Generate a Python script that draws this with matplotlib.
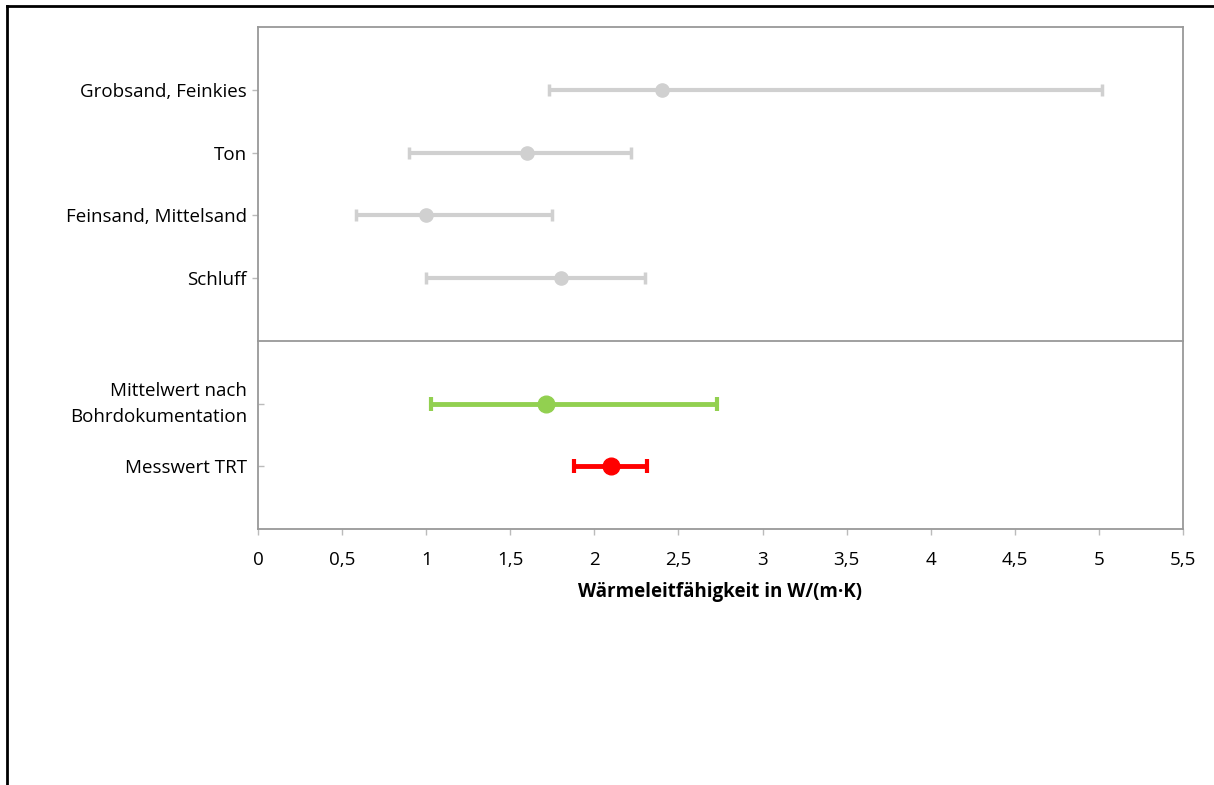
import matplotlib
matplotlib.use("Agg")
import matplotlib.pyplot as plt
from matplotlib.lines import Line2D

plt.rcParams['font.family'] = ['Open Sans', 'DejaVu Sans']

# Data
upper_labels = ["Grobsand, Feinkies", "Ton", "Feinsand, Mittelsand", "Schluff"]
upper_values = [2.4, 1.6, 1.0, 1.8]
upper_low = [1.73, 0.90, 0.58, 1.00]
upper_high = [5.02, 2.22, 1.75, 2.30]

lower_labels = ["Mittelwert nach\nBohrdokumentation", "Messwert TRT"]
lower_values = [1.71, 2.10]
lower_low = [1.03, 1.88]
lower_high = [2.73, 2.31]
lower_colors = ["#92d050", "#ff0000"]

xticks = [0, 0.5, 1, 1.5, 2, 2.5, 3, 3.5, 4, 4.5, 5, 5.5]
xticklabels = ["0", "0,5", "1", "1,5", "2", "2,5", "3", "3,5", "4", "4,5", "5", "5,5"]
xlabel = "Wärmeleitfähigkeit in W/(m·K)"

W, H = 1214, 785
fig = plt.figure(figsize=(W / 100, H / 100), dpi=100)

left, right = 258 / W, 1183 / W
top, mid, bottom = 1 - 27 / H, 1 - 341 / H, 1 - 529 / H
ax_u = fig.add_axes([left, mid, right - left, top - mid])
ax_l = fig.add_axes([left, bottom, right - left, mid - bottom], sharex=ax_u)

spine_col = "#999999"
tick_col = "#bbbbbb"
gray = "#d0d0d0"
fs = 13.5

# upper
ypos_u = [4, 3, 2, 1]
for y, v, lo, hi in zip(ypos_u, upper_values, upper_low, upper_high):
    ax_u.errorbar(v, y, xerr=[[v - lo], [hi - v]], fmt='o', color=gray, ecolor=gray,
                  markersize=9.5, elinewidth=3, capsize=4, capthick=2.5)
ax_u.set_ylim(0, 5)
ax_u.set_yticks(ypos_u)
ax_u.set_yticklabels(upper_labels)
ax_u.tick_params(axis='y', direction='out', length=4.5, width=1, color=tick_col, labelsize=fs, pad=3.5)
ax_u.tick_params(axis='x', bottom=False, labelbottom=False)

# lower
ypos_l = [2, 1]
for y, v, lo, hi, c in zip(ypos_l, lower_values, lower_low, lower_high, lower_colors):
    ax_l.errorbar(v, y, xerr=[[v - lo], [hi - v]], fmt='o', color=c, ecolor=c,
                  markersize=12, elinewidth=3.5, capsize=5, capthick=3)
ax_l.set_ylim(0, 3)
ax_l.set_yticks(ypos_l)
ax_l.set_yticklabels(lower_labels, linespacing=1.55)
ax_l.get_yticklabels()[0].set_verticalalignment('center')
ax_l.tick_params(axis='y', direction='in', length=4.5, width=1, color=tick_col, labelsize=fs, pad=8)
ax_l.set_xlim(0, 5.5)
ax_l.set_xticks(xticks)
ax_l.set_xticklabels(xticklabels)
ax_l.tick_params(axis='x', direction='out', length=4, width=1, color=tick_col, labelsize=fs, pad=11.5)
ax_l.set_xlabel(xlabel, fontsize=fs, fontweight='bold', labelpad=10)

for ax in (ax_u, ax_l):
    for s in ax.spines.values():
        s.set_color(spine_col)
        s.set_linewidth(1.3)
ax_u.spines['bottom'].set_visible(False)

# outer frame (top and left)
fig.add_artist(Line2D([7 / W, 1], [1 - 6 / H, 1 - 6 / H], color='black', lw=2, transform=fig.transFigure))
fig.add_artist(Line2D([7 / W, 7 / W], [0, 1 - 6 / H], color='black', lw=2, transform=fig.transFigure))

fig.savefig("out.png", dpi=100)
